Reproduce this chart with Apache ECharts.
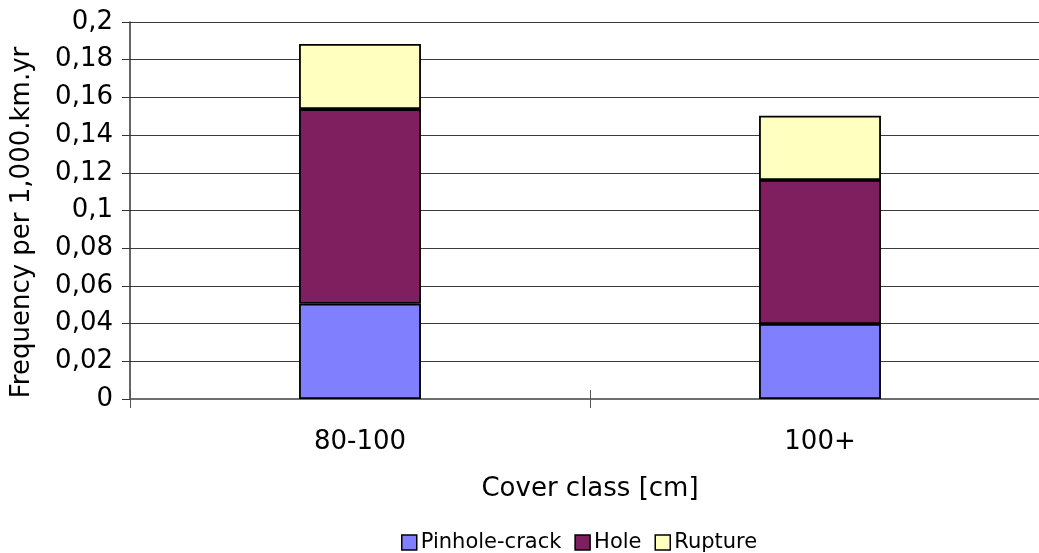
<!DOCTYPE html>
<html>
<head>
<meta charset="utf-8">
<script src="https://cdn.jsdelivr.net/npm/echarts@6/dist/echarts.min.js"></script>
<style>
  html, body { margin: 0; padding: 0; background: #fff; overflow: hidden; }
  #chart { width: 1039px; height: 553px; }
</style>
</head>
<body>
<div id="chart"></div>
<script>
// Failure frequency by cover class, stacked by damage type
var categories = ['80-100', '100+'];
var pinholeCrack = [0.0505, 0.0398];
var hole = [0.1033, 0.0764];
var rupture = [0.0345, 0.0341];

var FONT = 'DejaVu Sans, Verdana, sans-serif';

function commaDecimal(v) {
  return String(+v.toFixed(2)).replace('.', ',');
}

var barStyle = function (color) {
  return { color: color, borderColor: '#000', borderWidth: 1.8 };
};

var chart = echarts.init(document.getElementById('chart'));
chart.setOption({
  animation: false,
  backgroundColor: '#fff',
  textStyle: { fontFamily: FONT },
  // plot area runs slightly past the right edge of the canvas
  grid: {
    left: 130, width: 920, top: 22, bottom: 154,
    containLabel: false, outerBoundsMode: 'none'
  },
  legend: {
    left: 401,
    top: 532,
    padding: 0,
    icon: 'rect',
    itemWidth: 15,
    itemHeight: 15,
    itemGap: 13,
    textStyle: { fontFamily: FONT, fontSize: 21, color: '#000', padding: [0, 0, 0, -1] },
    itemStyle: { borderColor: '#000', borderWidth: 1.5 },
    data: ['Pinhole-crack', 'Hole', 'Rupture']
  },
  xAxis: [{
    type: 'category',
    data: categories,
    position: 'bottom',
    name: 'Cover class [cm]',
    nameLocation: 'middle',
    nameGap: 77,
    nameTextStyle: { fontFamily: FONT, fontSize: 26, color: '#000' },
    axisLine: { show: true, lineStyle: { color: '#6e6e6e', width: 2 } },
    axisTick: { show: true, length: 9, lineStyle: { color: '#555', width: 1 } },
    axisLabel: { fontFamily: FONT, fontSize: 26, color: '#000', margin: 30 },
    splitLine: { show: false }
  }, {
    // inward half of the crossing category ticks
    type: 'category',
    data: categories,
    position: 'bottom',
    axisLine: { show: false },
    axisTick: { show: true, inside: true, length: 9, lineStyle: { color: '#555', width: 1 } },
    axisLabel: { show: false },
    splitLine: { show: false }
  }],
  yAxis: {
    type: 'value',
    min: 0,
    max: 0.2,
    interval: 0.02,
    name: 'Frequency per 1,000.km.yr',
    nameLocation: 'middle',
    nameGap: 95,
    nameTextStyle: { fontFamily: FONT, fontSize: 26, color: '#000', padding: [0, 24, 0, 0] },
    axisLine: { show: true, lineStyle: { color: '#333', width: 1.5 } },
    axisTick: { show: true, length: 8, lineStyle: { color: '#333', width: 1 } },
    axisLabel: {
      fontFamily: FONT, fontSize: 26, color: '#000', margin: 17,
      formatter: commaDecimal
    },
    splitLine: { show: true, lineStyle: { color: '#3c3c3c', width: 1 } }
  },
  series: [
    { name: 'Pinhole-crack', type: 'bar', stack: 'total', data: pinholeCrack,
      barWidth: '26.5%', itemStyle: barStyle('#8080ff') },
    { name: 'Hole', type: 'bar', stack: 'total', data: hole,
      barWidth: '26.5%', itemStyle: barStyle('#7f1f5f') },
    { name: 'Rupture', type: 'bar', stack: 'total', data: rupture,
      barWidth: '26.5%', itemStyle: barStyle('#ffffc0') }
  ]
});
</script>
</body>
</html>
